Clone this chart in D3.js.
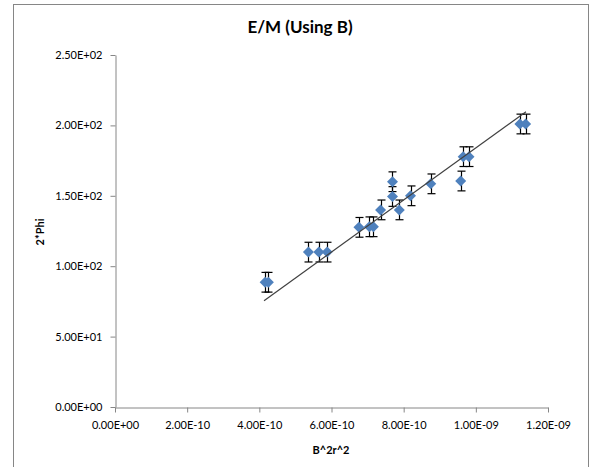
<!DOCTYPE html>
<html>
<head>
<meta charset="utf-8">
<script src="https://cdn.jsdelivr.net/npm/d3@7"></script>
<style>
  body { margin: 0; background: #fff; }
  svg { font-family: Lato, "Open Sans", sans-serif; }
</style>
</head>
<body>
<svg width="592" height="467"></svg>
<script>
// data
const bsq = [4.16e-10, 4.25e-10, 5.36e-10, 5.65e-10, 5.88e-10, 6.76e-10, 7.05e-10, 7.16e-10,
  7.36e-10, 7.69e-10, 7.69e-10, 7.88e-10, 8.19e-10, 8.75e-10, 9.58e-10, 9.65e-10, 9.81e-10,
  11.22e-10, 11.38e-10];
const phi2 = [88.6, 88.6, 110, 110, 110, 127.6, 128, 128,
  140, 149.5, 160, 140, 150, 158.5, 160.5, 177.8, 177.8,
  201, 201];
const errBar = 7;

// trendline as drawn in the chart
const trendSlope = 1.848e11;
const trendIntercept = -0.8;
const trendRange = [4.13e-10, 11.39e-10];

const xTicks = [0, 2e-10, 4e-10, 6e-10, 8e-10, 1e-9, 1.2e-9];
const xTickLabels = ['0.00E+00', '2.00E-10', '4.00E-10', '6.00E-10', '8.00E-10', '1.00E-09', '1.20E-09'];
const yTicks = [0, 50, 100, 150, 200, 250];
const yTickLabels = ['0.00E+00', '5.00E+01', '1.00E+02', '1.50E+02', '2.00E+02', '2.50E+02'];

const svg = d3.select('svg'),
  width = +svg.attr('width'),
  height = +svg.attr('height');

// chart frame
svg.append('rect')
  .attr('x', 13.5).attr('y', 4.5)
  .attr('width', 575).attr('height', 500)
  .attr('fill', '#fff')
  .attr('stroke', '#868686');

const x = d3.scaleLinear().domain([0, 1.2e-9]).range([115, 548]);
const y = d3.scaleLinear().domain([0, 250]).range([407, 55]);

// axes
const xAxis = d3.axisBottom(x)
  .tickValues(xTicks)
  .tickFormat((d, i) => xTickLabels[i])
  .tickSizeInner(5).tickSizeOuter(0).tickPadding(9);
const gx = svg.append('g').attr('transform', 'translate(0,407.5)').call(xAxis);

const yAxis = d3.axisLeft(y)
  .tickValues(yTicks)
  .tickFormat((d, i) => yTickLabels[i])
  .tickSizeInner(5).tickSizeOuter(0).tickPadding(8);
const gy = svg.append('g').attr('transform', 'translate(115.5,0)').call(yAxis);

[gx, gy].forEach(g => {
  g.select('.domain').attr('stroke', '#868686');
  g.selectAll('.tick line').attr('stroke', '#868686');
  g.selectAll('.tick text')
    .attr('fill', '#000')
    .style('font-size', '11px')
    .style('font-family', 'Lato, sans-serif');
});

// titles
svg.append('text')
  .attr('x', 300).attr('y', 33)
  .attr('text-anchor', 'middle')
  .style('font-size', '17px').style('font-weight', 'bold')
  .text('E/M (Using B)');

svg.append('text')
  .attr('x', 331).attr('y', 454)
  .attr('text-anchor', 'middle')
  .style('font-size', '11px').style('font-weight', 'bold')
  .text('B^2r^2');

svg.append('text')
  .attr('transform', 'translate(44,232) rotate(-90)')
  .attr('text-anchor', 'middle')
  .style('font-size', '11px').style('font-weight', 'bold')
  .text('2*Phi');

const pts = bsq.map((v, i) => ({ x: v, y: phi2[i] }));

// error bars
const eb = svg.append('g').attr('stroke', '#000').attr('stroke-width', 1.2);
pts.forEach(p => {
  const px = Math.round(x(p.x)) + 0.5;
  const top = y(p.y + errBar), bot = y(p.y - errBar);
  eb.append('line').attr('x1', px).attr('x2', px).attr('y1', top).attr('y2', bot);
  eb.append('line').attr('x1', px - 4).attr('x2', px + 4).attr('y1', top).attr('y2', top);
  eb.append('line').attr('x1', px - 4).attr('x2', px + 4).attr('y1', bot).attr('y2', bot);
});

// markers
svg.append('g')
  .selectAll('path')
  .data(pts)
  .enter()
  .append('path')
  .attr('d', 'M0,-5.5L5.5,0L0,5.5L-5.5,0Z')
  .attr('transform', d => `translate(${x(d.x)},${y(d.y)})`)
  .attr('fill', '#4F81BD');

// linear trendline
svg.append('line')
  .attr('x1', x(trendRange[0])).attr('y1', y(trendIntercept + trendSlope * trendRange[0]))
  .attr('x2', x(trendRange[1])).attr('y2', y(trendIntercept + trendSlope * trendRange[1]))
  .attr('stroke', '#404040')
  .attr('stroke-width', 1.2);
</script>
</body>
</html>
